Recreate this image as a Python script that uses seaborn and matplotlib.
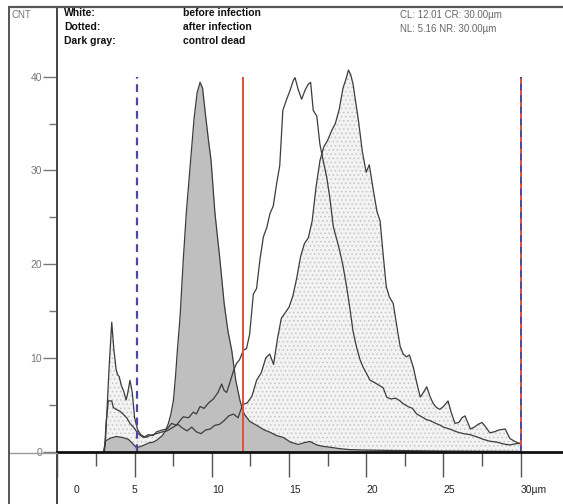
import numpy as np
import matplotlib
matplotlib.use('Agg')
import matplotlib.pyplot as plt
import seaborn as sns
from matplotlib.lines import Line2D
from matplotlib.transforms import ScaledTranslation

sns.set_style('white')
plt.rcParams['font.family'] = ['Liberation Sans', 'DejaVu Sans']
plt.rcParams['hatch.linewidth'] = 0.6

# --- data ---
# after infection (dotted)
after_x = [3.0, 3.1, 3.2, 3.35, 3.52, 3.65, 3.8, 3.9, 4.0, 4.15, 4.3, 4.45, 4.55, 4.7, 4.85,
           5.0, 5.2, 5.4, 5.7, 6.0, 6.4, 6.8, 7.1, 7.5, 7.8, 8.1, 8.4, 8.7, 9.0, 9.3, 9.6,
           9.9, 10.2, 10.5, 10.8, 11.1, 11.4, 11.7, 12.0, 12.3, 12.6, 12.9, 13.2, 13.5, 13.75,
           14.0, 14.25, 14.5, 14.75, 15.0, 15.25, 15.5, 15.75, 16.0, 16.25, 16.5, 16.75, 17.0,
           17.25, 17.5, 17.75, 18.0, 18.25, 18.5, 18.7, 18.85, 19.0, 19.15, 19.3, 19.5, 19.75,
           20.0, 20.2, 20.45, 20.7, 20.9, 21.1, 21.3, 21.5, 21.75, 22.0, 22.2, 22.4, 22.6, 22.8,
           23.05, 23.25, 23.5, 23.7, 23.92, 24.15, 24.35, 24.55, 24.77, 25.0, 25.3, 25.5, 25.75,
           26.0, 26.2, 26.4, 26.6, 26.75, 27.0, 27.25, 27.5, 27.75, 28.0, 28.3, 28.6, 29.0,
           29.3, 29.6, 29.85, 30.0]
after_y = [0, 0.8, 4, 9, 13.8, 11, 8.8, 8.2, 8.0, 7.0, 6.4, 5.5, 6.2, 7.6, 6.3,
           3.6, 2.3, 1.8, 1.5, 1.7, 1.9, 2.1, 2.2, 2.6, 2.9, 2.5, 2.2, 2.6, 2.1, 1.9, 2.3,
           2.4, 2.8, 2.9, 3.3, 3.8, 4.0, 3.6, 5.0, 5.2, 5.9, 7.6, 8.4, 10.0, 10.4,
           9.3, 12.0, 14.2, 14.8, 15.4, 16.6, 18.5, 20.8, 22.2, 22.8, 24.6, 28.2, 31.0,
           32.5, 33.2, 34.2, 35.0, 36.5, 38.8, 39.8, 40.7, 40.2, 39.2, 37.5, 35.3, 32.0,
           29.8, 30.6, 28.0, 25.6, 24.6, 21.0, 17.6, 16.5, 15.8, 13.2, 11.2, 10.4, 10.1, 10.3,
           9.0, 7.5, 5.8, 6.3, 6.9, 5.8, 5.1, 4.7, 4.5, 4.8, 5.4, 4.2, 3.0,
           3.1, 3.6, 3.8, 3.0, 2.4, 2.6, 2.9, 3.1, 2.6, 2.0, 2.1, 2.3, 2.4,
           1.4, 1.1, 0.9, 0.8]

# before infection (white)
before_x = [3.05, 3.15, 3.3, 3.52, 3.62, 3.8, 4.05, 4.25, 4.49, 4.7, 4.92, 5.24, 5.56, 5.9,
            6.2, 6.43, 6.8, 7.1, 7.4, 7.7, 8.0, 8.15, 8.5, 8.8, 9.0, 9.24, 9.5, 9.8, 10.1,
            10.4, 10.64, 10.8, 10.96, 11.2, 11.4, 11.6, 11.8, 12.04, 12.25, 12.45, 12.69, 12.9,
            13.12, 13.34, 13.56, 13.77, 13.98, 14.2, 14.4, 14.6, 14.85, 15.06, 15.28, 15.39,
            15.6, 15.82, 16.05, 16.25, 16.4, 16.57, 16.8, 17.0, 17.22, 17.44, 17.65, 17.87,
            18.1, 18.3, 18.5, 18.74, 18.95, 19.15, 19.38, 19.6, 19.8, 20.03, 20.25, 20.5, 20.8,
            21.1, 21.33, 21.6, 21.9, 22.19, 22.4, 22.7, 23.0, 23.27, 23.6, 23.9, 24.13, 24.5,
            24.8, 25.0, 25.4, 25.86, 26.3, 26.72, 27.1, 27.58, 28.0, 28.45, 28.9, 29.3, 29.6, 30.0]
before_y = [0, 3.0, 5.4, 5.4, 4.7, 4.5, 4.3, 4.0, 3.6, 3.0, 2.6, 1.9, 1.5, 1.8,
            1.7, 2.1, 2.3, 2.4, 3.0, 2.8, 3.4, 3.7, 3.6, 4.2, 4.0, 4.8, 4.6, 5.2, 5.6,
            6.3, 7.2, 6.5, 6.3, 7.5, 8.6, 9.4, 9.8, 10.8, 11.0, 12.5, 16.8, 17.4,
            20.5, 22.9, 23.9, 25.4, 26.2, 28.6, 30.5, 36.4, 37.6, 38.5, 39.6, 39.9,
            38.6, 37.6, 38.6, 39.2, 39.4, 36.4, 35.8, 32.8, 31.0, 29.3, 27.0, 24.0,
            22.6, 21.3, 19.8, 17.5, 15.2, 12.8, 11.1, 9.8, 9.0, 8.3, 7.6, 7.4, 7.1,
            6.8, 5.8, 5.6, 5.7, 5.4, 5.1, 4.8, 4.6, 4.0, 3.7, 3.4, 3.3, 3.0,
            2.8, 2.6, 2.4, 2.1, 1.9, 1.8, 1.6, 1.3, 1.1, 1.0, 0.8, 0.7, 0.8, 0.9]

# control dead (dark gray)
dead_x = [3.0, 3.1, 3.4, 3.8, 4.2, 4.6, 4.9, 5.13, 5.5, 5.9, 6.2, 6.43, 6.8, 7.0, 7.19, 7.35,
          7.51, 7.65, 7.77, 7.95, 8.15, 8.35, 8.63, 8.85, 9.05, 9.24, 9.4, 9.6, 9.8, 9.95,
          10.2, 10.53, 10.8, 11.05, 11.29, 11.55, 11.83, 12.1, 12.47, 12.9, 13.4, 13.77, 14.2,
          14.63, 15.1, 15.6, 16.0, 16.36, 16.8, 17.2, 17.65, 18.3, 18.95, 20.0, 22.0, 25.0, 30.0]
dead_y = [0, 1.1, 1.4, 1.6, 1.5, 1.3, 0.8, 0.4, 0.6, 0.9, 1.0, 1.2, 1.7, 2.2, 3.0, 4.0,
          5.4, 8.0, 10.8, 14.5, 20.4, 25.5, 31.1, 35.5, 38.3, 39.4, 38.8, 35.8, 33.0, 31.1,
          25.5, 20.4, 15.8, 12.8, 10.8, 7.6, 5.4, 4.0, 3.2, 2.8, 2.3, 2.06, 1.7,
          1.5, 1.0, 0.75, 0.95, 1.07, 0.7, 0.55, 0.46, 0.3, 0.2, 0.15, 0.1, 0.05, 0]

# cursor settings
cl, cr = 12.01, 30.00
nl, nr = 5.16, 30.00

legend_keys = ['White:', 'Dotted:', 'Dark gray:']
legend_names = ['before infection', 'after infection', 'control dead']

x_major = [0, 5, 10, 15, 20, 25, 30]
x_labels = ['0', '5', '10', '15', '20', '25', '30µm']
x_minor = [2.5, 7.5, 12.5, 17.5, 22.5, 27.5]
y_major = [0, 10, 20, 30, 40]
y_minor = [5, 15, 25, 35]

# --- figure layout (pixels of a 563x504 image) ---
W, H = 563, 504
fig = plt.figure(figsize=(W / 100, H / 100), dpi=100)
px_x0, px_y0, px_top = 57.4, 451.5, 7
ux, uy = 15.44, 9.37
ax = fig.add_axes([px_x0 / W, 0, 1 - px_x0 / W, 1 - px_top / H])
ax.set_xlim(0, (W - px_x0) / ux)
ax.set_ylim(-(H - px_y0) / uy, (px_y0 - px_top) / uy)

line_col = '#3c3c3c'
ax.fill_between(after_x, after_y, 0, facecolor='#f3f3f3', edgecolor='#c4c4c4',
                hatch='....', linewidth=0, zorder=1)
ax.fill_between(dead_x, dead_y, 0, facecolor='#bfbfbf', linewidth=0, zorder=2)
sns.lineplot(x=dead_x, y=dead_y, ax=ax, color=line_col, lw=0.9, sort=False, zorder=3)
sns.lineplot(x=after_x, y=after_y, ax=ax, color=line_col, lw=0.9, sort=False, zorder=3)
sns.lineplot(x=before_x, y=before_y, ax=ax, color=line_col, lw=0.9, sort=False, zorder=3)

# cursor lines
ax.vlines(cl, 0, 40, color='#e0503a', lw=1.4, zorder=4)
ax.vlines(cr, 0, 40, color='#e0503a', lw=1.4, zorder=4)
ax.vlines(nl, 0, 40, color='#4a4aa6', lw=1.6, linestyles=(0, (3.5, 2.5)), zorder=5)
ax.vlines(nr, 0, 40, color='#4a4aa6', lw=1.4, linestyles=(0, (3.5, 2.5)), zorder=5)

# axes styling
for s in ['top', 'right']:
    ax.spines[s].set_visible(False)
ax.spines['left'].set_color('#444444')
ax.spines['left'].set_linewidth(1.4)
ax.spines['bottom'].set_position(('data', 0))
ax.spines['bottom'].set_color('#111111')
ax.spines['bottom'].set_linewidth(2.0)
ax.spines['bottom'].set_zorder(6)

ax.set_xticks(x_major)
ax.set_xticklabels(x_labels, ha='left')
ax.set_xticks(x_minor, minor=True)
ax.set_yticks(y_major)
ax.set_yticks(y_minor, minor=True)
ax.tick_params(axis='x', which='major', direction='out', length=18, width=1.0,
               color='#555555', labelsize=7.5, labelcolor='#222222', pad=6, bottom=True)
ax.tick_params(axis='x', which='minor', direction='out', length=10, width=1.0,
               color='#555555', bottom=True)
ax.tick_params(axis='y', which='major', direction='out', length=10, width=1.0,
               color='#777777', labelsize=7.5, labelcolor='#777777', pad=1, left=True)
ax.tick_params(axis='y', which='minor', direction='out', length=6, width=1.0,
               color='#777777', left=True)
lab0 = ax.get_xticklabels()[0]
lab0.set_transform(lab0.get_transform() + ScaledTranslation(16 / 100, 0, fig.dpi_scale_trans))
lab5 = ax.get_xticklabels()[1]
lab5.set_transform(lab5.get_transform() + ScaledTranslation(-3 / 100, 0, fig.dpi_scale_trans))
ax.set_xlabel('')
ax.set_ylabel('')

# frame around the chart
def fx(p):
    return p / W

def fy(p):
    return 1 - p / H

fig.add_artist(Line2D([fx(9), fx(9)], [0, fy(7)], color='#555555', lw=1.4))
fig.add_artist(Line2D([fx(9), 1], [fy(7), fy(7)], color='#555555', lw=1.6))
fig.add_artist(Line2D([fx(10), fx(px_x0)], [fy(452.5), fy(452.5)], color='#9a9a9a', lw=1.0))

# header texts
fig.text(fx(12), fy(15), 'CNT', color='#777777', fontsize=7, va='center')
for i, (k, n) in enumerate(zip(legend_keys, legend_names)):
    yy = fy(13 + 14 * i)
    fig.text(fx(64), yy, k, fontsize=7.5, fontweight='bold', color='#111111', va='center')
    fig.text(fx(183), yy, n, fontsize=7.5, fontweight='bold', color='#111111', va='center')
fig.text(fx(400), fy(15), f'CL: {cl:.2f} CR: {cr:.2f}µm', fontsize=7, color='#666666', va='center')
fig.text(fx(400), fy(29), f'NL: {nl:.2f} NR: {nr:.2f}µm', fontsize=7, color='#666666', va='center')

fig.savefig('out.png', dpi=100)
